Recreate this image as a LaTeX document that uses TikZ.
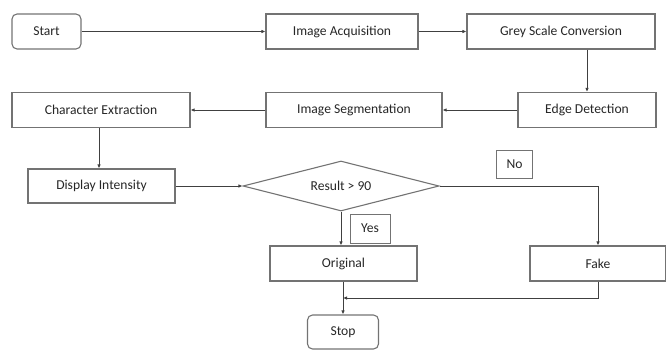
\documentclass[tikz,border=0pt]{standalone}
\usepackage{fontspec}
\setmainfont{Carlito}
\usetikzlibrary{arrows.meta,shapes.geometric}
\begin{document}
\begin{tikzpicture}[x=1pt,y=-1pt,
  box/.style={draw=black!55,line width=1.1pt,minimum height=35pt,inner sep=0pt,font=\fontsize{13.6}{15}\selectfont,text=black!85},
  rbox/.style={box,rounded corners=5pt},
  lbl/.style={draw=black!55,line width=1pt,inner sep=0pt,font=\fontsize{13.6}{15}\selectfont,text=black!85},
  conn/.style={draw=black!75,line width=0.8pt,-{Latex[length=4pt,width=3.5pt]}},
  plain/.style={draw=black!75,line width=0.8pt}]
\useasboundingbox (0,0) rectangle (666,350);
\node[rbox,minimum width=69pt] (start) at (46.5,31.5) {Start};
\node[box,minimum width=152pt] (acq) at (342,31.5) {Image Acquisition};
\node[box,minimum width=188pt] (grey) at (561,31.5) {Grey Scale Conversion};
\node[box,minimum width=138pt] (edge) at (587,110) {Edge Detection};
\node[box,minimum width=176pt] (seg) at (354,110) {Image Segmentation};
\node[box,minimum width=178pt] (char) at (101,110) {Character Extraction};
\node[box,minimum width=147pt,minimum height=34pt] (disp) at (101.5,186) {Display Intensity};
\node[diamond,draw=black!55,line width=1.1pt,minimum width=196pt,minimum height=50pt,inner sep=0pt,aspect=3.9,font=\fontsize{13.6}{15}\selectfont,text=black!85] (res) at (341,186) {Result > 90};
\node[lbl,minimum width=36pt,minimum height=28pt] (no) at (514.5,164) {No};
\node[lbl,minimum width=40pt,minimum height=29pt] (yes) at (370,228.5) {Yes};
\node[box,minimum width=147pt] (orig) at (343.5,263.5) {Original};
\node[box,minimum width=136pt] (fake) at (598,263.5) {Fake};
\node[rbox,minimum width=71pt,minimum height=34pt] (stop) at (343,332) {Stop};
\coordinate (j) at (343,298);
\draw[conn] (start) -- (acq);
\draw[conn] (acq) -- (grey);
\draw[conn] (grey.south -| edge.north) -- (edge.north);
\draw[conn] (edge) -- (seg);
\draw[conn] (seg) -- (char);
\draw[conn] (char.south -| 99,0) -- (disp.north -| 99,0);
\draw[conn] (disp.east) -- (res.west);
\draw[conn] (res.east) -| (fake.north);
\draw[conn] (res.south) -- (orig.north -| res.south);
\draw[plain] (orig.south -| j) -- (j);
\draw[conn] (fake.south) |- (j);
\draw[conn] (j) -- (stop.north -| j);
\end{tikzpicture}
\end{document}
